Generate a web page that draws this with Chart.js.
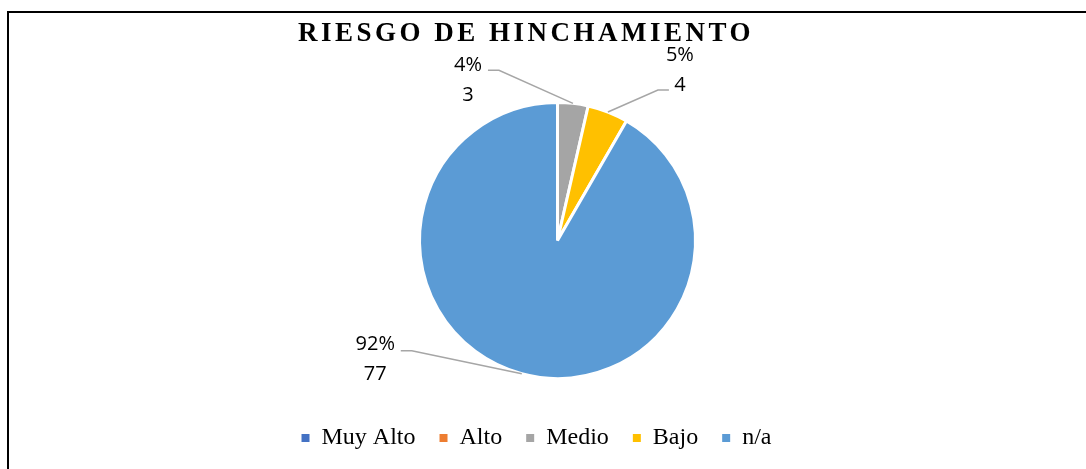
<!DOCTYPE html>
<html lang="es">
<head>
  <meta charset="UTF-8" />
  <title>Riesgo de hinchamiento</title>
  <script src="https://cdn.jsdelivr.net/npm/chart.js"></script>
  <style>
    html, body { margin: 0; padding: 0; background: #fff; }
    .container { position: relative; width: 1086px; height: 469px; }
  </style>
</head>
<body>
  <div class="container"><canvas id="mychart"></canvas></div>
  <script>
    // datos del grafico
    const categories = ["Muy Alto", "Alto", "Medio", "Bajo", "n/a"];
    const counts = [0, 0, 3, 4, 77];
    const sliceColors = ["#4472C4", "#ED7D31", "#A5A5A5", "#FFC000", "#5B9BD5"];
    const chartTitle = "RIESGO DE HINCHAMIENTO";

    // marco (solo borde superior e izquierdo visibles)
    const framePlugin = {
      id: "frame",
      beforeDraw(chart) {
        const ctx = chart.ctx;
        ctx.save();
        ctx.fillStyle = "#000";
        ctx.fillRect(7, 11, chart.width - 7, 2);
        ctx.fillRect(7, 11, 2, chart.height - 11);
        ctx.restore();
      },
    };

    // titulo con espaciado entre letras
    const titlePlugin = {
      id: "spacedTitle",
      afterDraw(chart, args, opts) {
        const ctx = chart.ctx;
        ctx.save();
        ctx.font = opts.font;
        ctx.letterSpacing = opts.spacing;
        ctx.fillStyle = opts.color;
        ctx.textAlign = "left";
        ctx.textBaseline = "alphabetic";
        ctx.fillText(opts.text, opts.x, opts.y);
        ctx.restore();
      },
    };

    // la leyenda esta un poco a la izquierda del centro del pastel
    const legendShift = {
      id: "legendShift",
      afterLayout(chart, args, opts) {
        chart.legend.left += opts.dx;
        chart.legend.right += opts.dx;
      },
    };

    // etiquetas "porcentaje / valor" con lineas guia
    const sliceLabels = {
      id: "sliceLabels",
      afterDatasetsDraw(chart, args, opts) {
        const ctx = chart.ctx;
        const meta = chart.getDatasetMeta(0);
        const values = chart.data.datasets[0].data;
        const total = values.reduce((a, b) => a + b, 0);
        ctx.save();
        meta.data.forEach((arc, i) => {
          const place = opts.placement[i];
          if (!place || !values[i]) return;
          const p = arc.getProps(["x", "y", "startAngle", "endAngle", "outerRadius"], true);
          const mid = (p.startAngle + p.endAngle) / 2;
          const r = p.outerRadius + opts.gap;
          const sx = p.x + Math.cos(mid) * r;
          const sy = p.y + Math.sin(mid) * r;
          const ex = sx + place.elbow[0];
          const ey = sy + place.elbow[1];
          const dir = Math.sign(place.elbow[0]);

          ctx.strokeStyle = opts.lineColor;
          ctx.lineWidth = opts.lineWidth;
          ctx.beginPath();
          ctx.moveTo(sx, sy);
          ctx.lineTo(ex, ey);
          ctx.lineTo(ex + dir * opts.tail, ey);
          ctx.stroke();

          const pct = Math.round((values[i] / total) * 100) + "%";
          const tx = ex + place.text[0];
          const ty = ey + place.text[1];
          ctx.font = opts.font;
          ctx.fillStyle = opts.color;
          ctx.textAlign = "center";
          ctx.textBaseline = "middle";
          ctx.fillText(pct, tx, ty);
          ctx.fillText(String(values[i]), tx, ty + opts.lineGap);
        });
        ctx.restore();
      },
    };

    const ctx = document.getElementById("mychart").getContext("2d");
    const myChart = new Chart(ctx, {
      type: "pie",
      data: {
        labels: categories,
        datasets: [
          {
            data: counts,
            backgroundColor: sliceColors,
            borderColor: "#fff",
            borderWidth: 3,
            radius: 138,
          },
        ],
      },
      options: {
        responsive: true,
        maintainAspectRatio: false,
        animation: false,
        layout: { padding: { top: 79, left: 29, right: 0, bottom: 9 } },
        plugins: {
          tooltip: { enabled: false },
          legend: {
            position: "bottom",
            labels: {
              boxWidth: 8,
              boxHeight: 8,
              padding: 24,
              color: "#000",
              font: { family: "'Liberation Serif', 'Times New Roman', serif", size: 24 },
              generateLabels(chart) {
                const items = Chart.overrides.doughnut.plugins.legend.labels.generateLabels(chart);
                items.forEach((it) => {
                  it.lineWidth = 0;
                  it.strokeStyle = "rgba(0,0,0,0)";
                });
                return items;
              },
            },
          },
          legendShift: { dx: -21 },
          spacedTitle: {
            text: chartTitle,
            font: "bold 27px 'Liberation Serif', 'Times New Roman', serif",
            spacing: "3.5px",
            color: "#000",
            x: 298,
            y: 41,
          },
          sliceLabels: {
            font: "20px 'Open Sans', sans-serif",
            color: "#000",
            lineColor: "#A6A6A6",
            lineWidth: 1.5,
            gap: 0,
            tail: 11,
            lineGap: 30,
            placement: {
              2: { elbow: [-74, -33], text: [-31, -5] },
              3: { elbow: [50, -22], text: [22, -35] },
              4: { elbow: [-110, -23], text: [-36.5, -6.5] },
            },
          },
        },
      },
      plugins: [framePlugin, titlePlugin, legendShift, sliceLabels],
    });
  </script>
</body>
</html>
